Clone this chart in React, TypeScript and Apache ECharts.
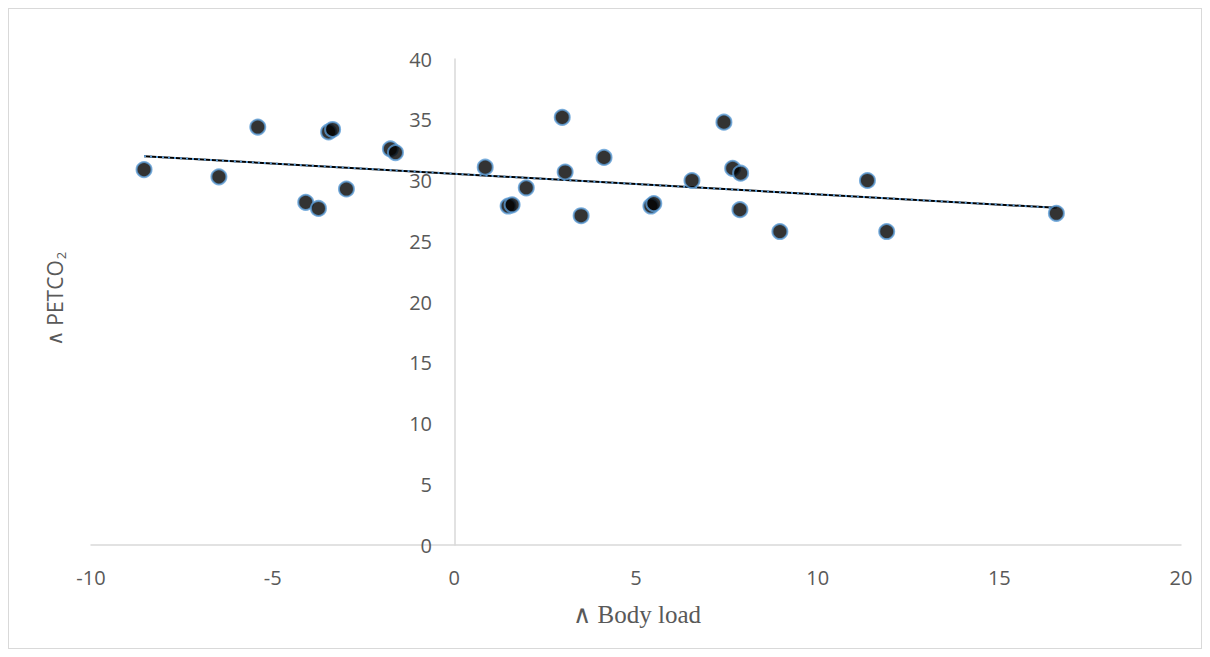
import React, { useEffect, useRef } from "react";
import * as echarts from "echarts";

const bodyLoad = [
  -8.54, -6.48, -5.41, -4.09, -3.74, -3.46, -3.35, -2.97, -1.76, -1.62,
  0.85, 1.48, 1.59, 1.98, 2.97, 3.05, 3.49, 4.12, 5.41, 5.49,
  6.54, 7.42, 7.66, 7.88, 7.86, 8.96, 11.37, 11.9, 16.57,
];
const petco2 = [
  30.9, 30.3, 34.4, 28.2, 27.7, 34.0, 34.2, 29.3, 32.6, 32.3,
  31.1, 27.9, 28.0, 29.4, 35.2, 30.7, 27.1, 31.9, 27.9, 28.1,
  30.0, 34.8, 31.0, 30.6, 27.6, 25.8, 30.0, 25.8, 27.3,
];
const trendX = [-8.54, 16.57];
const trendY = [32.0, 27.75];

const sans = "'Open Sans', 'Noto Sans', sans-serif";

export default function App() {
  const ref = useRef<HTMLDivElement>(null);
  useEffect(() => {
    if (!ref.current) return;
    const chart = echarts.init(ref.current, undefined, { renderer: "svg" });
    const points = bodyLoad.map((x, i) => [x, petco2[i]]);
    const trend = trendX.map((x, i) => [x, trendY[i]]);
    chart.setOption({
      animation: false,
      backgroundColor: "#ffffff",
      grid: { left: 82, right: 20, top: 50, bottom: 103 },
      xAxis: {
        type: "value",
        min: -10,
        max: 20,
        interval: 5,
        axisLine: { onZero: true, lineStyle: { color: "#d9d9d9", width: 1.5 } },
        axisTick: { show: false },
        splitLine: { show: false },
        axisLabel: {
          color: "#595959",
          fontSize: 20,
          fontFamily: sans,
          margin: 22,
        },
      },
      yAxis: {
        type: "value",
        min: 0,
        max: 40,
        interval: 5,
        axisLine: { show: true, onZero: true, lineStyle: { color: "#d9d9d9", width: 1.5 } },
        axisTick: { show: false },
        splitLine: { show: false },
        axisLabel: {
          color: "#595959",
          fontSize: 20,
          fontFamily: sans,
          margin: -341,
          align: "right",
        },
      },
      graphic: [
        {
          type: "text",
          x: 628,
          y: 605,
          style: {
            text: "∧ Body load",
            fill: "#595959",
            font: "25px 'Liberation Serif', 'DejaVu Serif', serif",
            textAlign: "center",
            textVerticalAlign: "middle",
          },
        },
        {
          type: "text",
          x: 46,
          y: 290,
          rotation: Math.PI / 2,
          style: {
            text: "{op|∧} PETCO{sub|2}",
            fill: "#595959",
            font: "21px " + sans,
            textAlign: "center",
            textVerticalAlign: "middle",
            rich: {
              op: {
                fontSize: 21,
                fill: "#595959",
                fontFamily: "'Liberation Serif', serif",
              },
              sub: {
                fontSize: 13,
                fill: "#595959",
                fontFamily: sans,
                padding: [12, 0, 0, 1],
              },
            },
          },
        },
      ],
      series: [
        {
          type: "line",
          data: trend,
          symbol: "none",
          lineStyle: { color: "#000000", width: 2 },
          z: 2,
        },
        {
          type: "line",
          data: trend,
          symbol: "none",
          lineStyle: { color: "#5b9bd5", width: 2, type: [2, 4] },
          z: 3,
        },
        {
          type: "scatter",
          data: points,
          symbol: "circle",
          symbolSize: 15,
          itemStyle: { color: "#000000", borderColor: "#5b9bd5", borderWidth: 2 },
          z: 4,
        },
      ],
    });
    return () => chart.dispose();
  }, []);
  return (
    <div
      ref={ref}
      style={{ width: 1194, height: 641, border: "1px solid #d9d9d9", boxSizing: "border-box" }}
    />
  );
}
